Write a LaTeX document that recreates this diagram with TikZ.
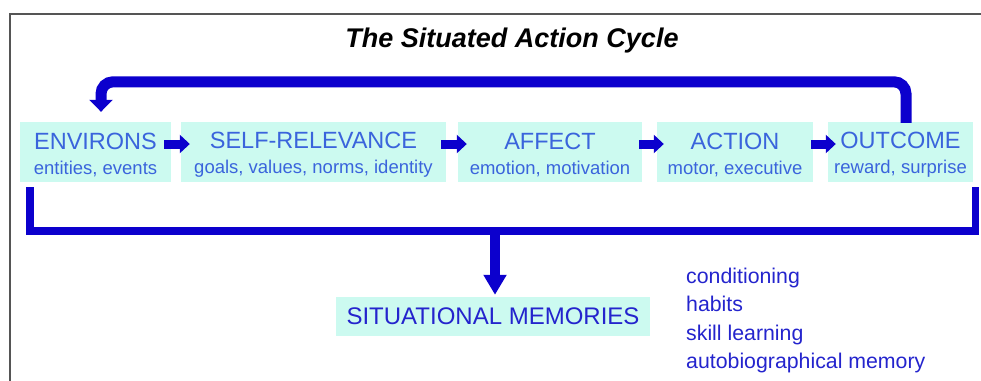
\documentclass[tikz,border=0pt]{standalone}
\usepackage{fontspec}
\setmainfont{Liberation Sans}
\usetikzlibrary{arrows.meta}
\definecolor{boxfill}{RGB}{204,250,240}
\definecolor{boxtext}{RGB}{58,100,220}
\definecolor{arrowblue}{RGB}{12,0,205}
\definecolor{memtext}{RGB}{36,36,205}
\definecolor{framegray}{RGB}{85,85,85}
\newcommand{\mainword}[1]{{\fontsize{23.5}{25}\selectfont\rule{0pt}{22pt}#1}}
\begin{document}
\begin{tikzpicture}[x=1pt,y=-1pt,
  stage/.style={fill=boxfill, text=boxtext, align=center, inner sep=0pt,
    minimum height=60pt, font=\fontsize{18.5}{25}\selectfont},
  smallarrow/.style={draw=arrowblue, line width=9pt,
    -{Triangle[length=10pt,width=18pt]}},
  bigarrow/.style={draw=arrowblue, line width=11pt, rounded corners=12pt,
    -{Triangle[length=12pt,width=23pt]}},
  bracket/.style={draw=arrowblue, line width=7.5pt, line join=miter},
  downarrow/.style={draw=arrowblue, line width=10pt,
    -{Triangle[length=20pt,width=22pt]}},
  memitem/.style={anchor=base west, inner sep=0pt, text=memtext,
    font=\fontsize{21.3}{25}\selectfont}
]
\useasboundingbox (0,0) rectangle (981,380);
\draw[framegray, line width=1.2pt] (10,381) -- (10,14) -- (981,14);

\node[anchor=base, inner sep=0pt, font=\fontsize{27}{30}\selectfont\bfseries\itshape]
  (title) at (512,47) {The Situated Action Cycle};

\node[stage, minimum width=151pt] (env)  at (95.5,152)  {\mainword{ENVIRONS}\\entities, events};
\node[stage, minimum width=265pt] (self) at (313.5,152) {\mainword{SELF-RELEVANCE}\\goals, values, norms, identity};
\node[stage, minimum width=184pt] (aff)  at (550,152)   {\mainword{AFFECT}\\emotion, motivation};
\node[stage, minimum width=156pt] (act)  at (735,152)   {\mainword{ACTION}\\motor, executive};
\node[stage, minimum width=145pt] (out)  at (900.5,152) {\mainword{OUTCOME}\\reward, surprise};

\draw[smallarrow] ([xshift=-7pt,yshift=8pt]env.east) -- ([xshift=9pt,yshift=8pt]self.west);
\draw[smallarrow] ([xshift=-5pt,yshift=8pt]self.east) -- ([xshift=9pt,yshift=8pt]aff.west);
\draw[smallarrow] ([xshift=-3pt,yshift=8pt]aff.east) -- ([xshift=7pt,yshift=8pt]act.west);
\draw[smallarrow] ([xshift=-2pt,yshift=8pt]act.east) -- ([xshift=8pt,yshift=8pt]out.west);

\draw[bigarrow, shorten >=10pt] ([xshift=5.5pt,yshift=-1pt]out.north) -- ++(0,-41) -| ([xshift=5.5pt]env.north);

\coordinate (brl) at ([xshift=10pt,yshift=-5pt]env.south west);
\coordinate (brr) at ([xshift=2.5pt,yshift=-5pt]out.south east);
\draw[bracket] (brl) -- ++(0,44) -| (brr);

\node[fill=boxfill, text=memtext, inner sep=0pt, minimum width=314pt, minimum height=39pt,
  font=\fontsize{24}{26}\selectfont] (sit) at (493,316.5) {SITUATIONAL MEMORIES};
\coordinate (split) at ([xshift=2pt]sit.north |- 0,231);
\draw[downarrow, shorten >=2pt] (split) -- ([xshift=2pt]sit.north);

\node[memitem] (m1) at (686,283)   {conditioning};
\node[memitem] (m2) at (686,311.5) {habits};
\node[memitem] (m3) at (686,340)   {skill learning};
\node[memitem] (m4) at (686,368.5) {autobiographical memory};
\end{tikzpicture}
\end{document}
